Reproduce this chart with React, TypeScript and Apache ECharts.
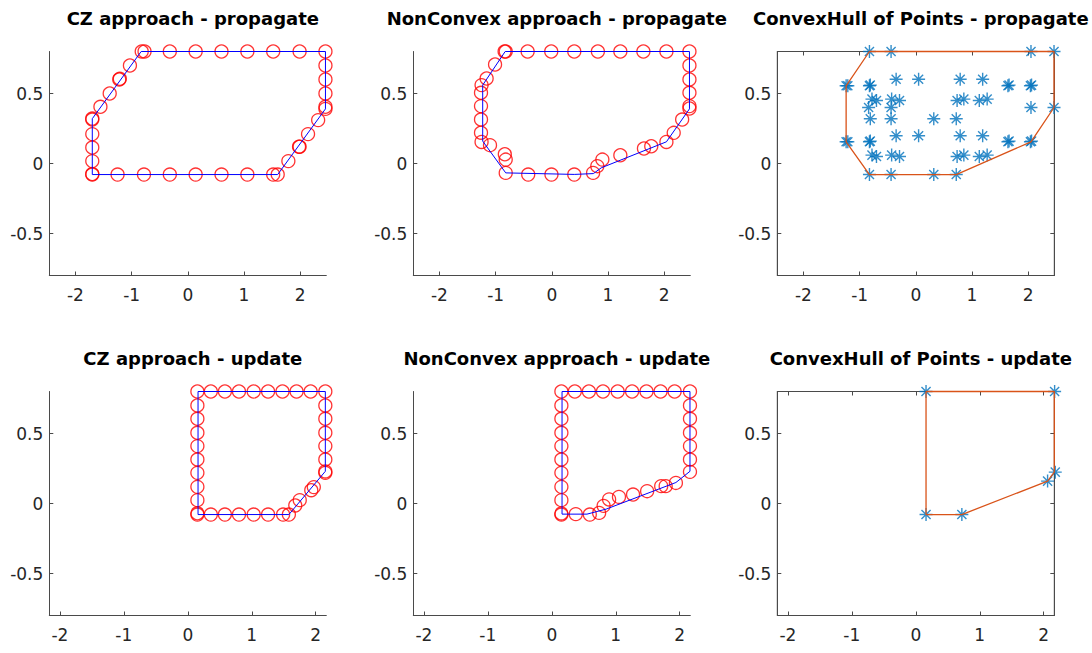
import React, { useEffect, useRef } from "react";
import * as echarts from "echarts";

// ---------- data ----------
const titles = [
  "CZ approach - propagate",
  "NonConvex approach - propagate",
  "ConvexHull of Points - propagate",
  "CZ approach - update",
  "NonConvex approach - update",
  "ConvexHull of Points - update",
];
const xTicks = [-2, -1, 0, 1, 2];
const yTicks = [-0.5, 0, 0.5];
const xLimTop = 2.465;
const xLimBottom = 2.165;
const yLim = 0.8;

// CZ approach - propagate
const czPropCircles = [
  [-0.82, 0.8], [-0.77, 0.8], [-0.32, 0.8], [0.14, 0.8], [0.6, 0.8], [1.06, 0.8], [1.52, 0.8], [1.99, 0.8], [2.45, 0.8],
  [2.45, 0.7], [2.45, 0.6], [2.45, 0.5], [2.45, 0.405], [2.45, 0.39],
  [2.32, 0.31], [2.14, 0.21], [1.98, 0.12], [1.99, 0.12], [1.79, 0.017], [1.6, -0.079],
  [1.52, -0.079], [1.06, -0.079], [0.6, -0.079], [0.14, -0.079], [-0.32, -0.079], [-0.78, -0.079], [-1.25, -0.079], [-1.7, -0.079],
  [-1.7, -0.075], [-1.7, 0.017], [-1.7, 0.114], [-1.7, 0.21], [-1.7, 0.314], [-1.7, 0.321],
  [-1.555, 0.405], [-1.39, 0.5], [-1.22, 0.6], [-1.21, 0.605], [-1.03, 0.7],
];
const czPropPoly = [
  [-1.7, -0.079], [-1.7, 0.32], [-0.83, 0.8], [2.45, 0.8], [2.45, 0.39], [1.6, -0.079], [-1.7, -0.079],
];

// NonConvex approach - propagate
const ncPropCircles = [
  [-0.84, 0.8], [-0.82, 0.8], [-0.43, 0.8], [-0.01, 0.8], [0.4, 0.8], [0.82, 0.8], [1.22, 0.8], [1.63, 0.8], [2.04, 0.8], [2.45, 0.8],
  [2.45, 0.7], [2.45, 0.6], [2.45, 0.505], [2.45, 0.41], [2.45, 0.393],
  [2.32, 0.314], [2.17, 0.219], [2.04, 0.154], [1.77, 0.123], [1.64, 0.107], [1.22, 0.059], [0.9, 0.028], [0.81, -0.019], [0.735, -0.067],
  [0.4, -0.079], [-0.006, -0.079], [-0.42, -0.079], [-0.82, -0.067],
  [-0.82, 0.028], [-0.836, 0.066], [-1.1, 0.131], [-1.25, 0.154],
  [-1.26, 0.22], [-1.26, 0.314], [-1.26, 0.41], [-1.26, 0.505], [-1.25, 0.56], [-1.16, 0.607], [-1.01, 0.707],
];
const ncPropPoly = [
  [-0.83, 0.8], [-1.23, 0.56], [-1.23, 0.16], [-0.82, -0.067], [0.4, -0.078], [0.74, -0.072], [0.88, -0.031],
  [2.04, 0.155], [2.45, 0.39], [2.45, 0.8], [-0.83, 0.8],
];

// ConvexHull of Points - propagate
const hullPropStars = [
  [-0.825, 0.8], [-0.44, 0.8], [2.05, 0.8], [2.46, 0.8],
  [-0.35, 0.602], [0.05, 0.602], [0.79, 0.602], [1.19, 0.602],
  [-1.24, 0.555], [-1.21, 0.555], [-0.825, 0.555], [-0.81, 0.56], [1.64, 0.555], [1.66, 0.56], [2.04, 0.555], [2.06, 0.56],
  [-0.78, 0.46], [-0.7, 0.45], [-0.43, 0.46], [-0.29, 0.45], [0.735, 0.45], [0.855, 0.46], [1.13, 0.45], [1.27, 0.46],
  [-0.84, 0.4], [-0.44, 0.4], [2.05, 0.4], [2.46, 0.4],
  [-0.81, 0.32], [-0.44, 0.32], [0.32, 0.32], [0.72, 0.32],
  [-0.35, 0.198], [0.05, 0.198], [0.79, 0.198], [1.19, 0.198],
  [-1.24, 0.155], [-1.21, 0.155], [-0.825, 0.155], [-0.81, 0.16], [1.64, 0.155], [1.66, 0.16], [2.04, 0.155], [2.06, 0.16],
  [-0.78, 0.06], [-0.7, 0.05], [-0.43, 0.06], [-0.29, 0.05], [0.735, 0.05], [0.855, 0.06], [1.13, 0.05], [1.27, 0.06],
  [-0.825, -0.079], [-0.44, -0.079], [0.32, -0.079], [0.72, -0.079],
];
const hullPropPoly = [
  [-0.825, 0.8], [2.46, 0.8], [2.46, 0.4], [2.05, 0.155], [0.72, -0.079], [-0.825, -0.079],
  [-1.24, 0.155], [-1.24, 0.555], [-0.825, 0.8],
];

// CZ approach - update
const czUpdCircles = [
  [0.15, 0.8], [0.36, 0.8], [0.58, 0.8], [0.8, 0.8], [1.03, 0.8], [1.255, 0.8], [1.48, 0.8], [1.7, 0.8], [1.92, 0.8], [2.15, 0.8],
  [0.15, 0.7], [0.15, 0.605], [0.15, 0.505], [0.15, 0.41], [0.15, 0.314], [0.15, 0.219], [0.15, 0.119], [0.15, 0.024], [0.15, -0.07], [0.15, -0.079],
  [2.15, 0.7], [2.15, 0.605], [2.15, 0.505], [2.15, 0.41], [2.15, 0.314], [2.15, 0.229], [2.15, 0.219],
  [1.97, 0.117], [1.93, 0.095], [1.75, 0.024], [1.68, -0.014], [1.58, -0.079],
  [1.49, -0.079], [1.255, -0.079], [1.03, -0.079], [0.8, -0.079], [0.58, -0.079], [0.36, -0.079],
];
const czUpdPoly = [
  [0.16, -0.079], [0.16, 0.8], [2.15, 0.8], [2.15, 0.23], [1.58, -0.079], [0.16, -0.079],
];

// NonConvex approach - update
const ncUpdCircles = [
  [0.15, 0.8], [0.36, 0.8], [0.58, 0.8], [0.8, 0.8], [1.03, 0.8], [1.255, 0.8], [1.48, 0.8], [1.7, 0.8], [1.92, 0.8], [2.16, 0.8],
  [0.15, 0.7], [0.15, 0.605], [0.15, 0.505], [0.15, 0.41], [0.15, 0.314], [0.15, 0.219], [0.15, 0.119], [0.15, 0.024], [0.15, -0.071], [0.15, -0.079],
  [2.16, 0.7], [2.16, 0.605], [2.16, 0.505], [2.16, 0.41], [2.16, 0.314], [2.16, 0.226],
  [0.375, -0.076], [0.594, -0.079], [0.74, -0.067], [0.81, -0.017], [0.896, 0.029], [1.05, 0.047], [1.27, 0.064],
  [1.49, 0.088], [1.71, 0.124], [1.78, 0.124], [1.94, 0.147],
];
const ncUpdPoly = [
  [0.16, -0.076], [0.16, 0.8], [2.16, 0.8], [2.16, 0.23], [1.94, 0.15], [0.85, -0.04], [0.55, -0.076], [0.16, -0.076],
];

// ConvexHull of Points - update
const hullUpdStars = [
  [0.16, 0.8], [2.17, 0.8], [2.18, 0.224], [2.06, 0.16], [0.72, -0.079], [0.16, -0.079],
];
const hullUpdPoly = [
  [0.16, 0.8], [2.165, 0.8], [2.165, 0.224], [2.06, 0.16], [0.72, -0.079], [0.16, -0.079], [0.16, 0.8],
];

// ---------- layout / style ----------
const colLeft = [49.3, 413.3, 777.3];
const rowTop = [51.5, 391.5];
const plotW = 277;
const plotH = 224;
const axisColor = "#4a4a4a";
const labelColor = "#262626";
const fontFamily = "'DejaVu Sans', sans-serif";
const STAR = "path://M5,0L5,10M0,5L10,5M1.5,1.5L8.5,8.5M1.5,8.5L8.5,1.5";

type Panel = {
  kind: "cz" | "hull";
  pts: number[][];
  poly: number[][];
  xLim: number;
};

const panels: Panel[] = [
  { kind: "cz", pts: czPropCircles, poly: czPropPoly, xLim: xLimTop },
  { kind: "cz", pts: ncPropCircles, poly: ncPropPoly, xLim: xLimTop },
  { kind: "hull", pts: hullPropStars, poly: hullPropPoly, xLim: xLimTop },
  { kind: "cz", pts: czUpdCircles, poly: czUpdPoly, xLim: xLimBottom },
  { kind: "cz", pts: ncUpdCircles, poly: ncUpdPoly, xLim: xLimBottom },
  { kind: "hull", pts: hullUpdStars, poly: hullUpdPoly, xLim: xLimBottom },
];

function buildOption() {
  const grid: any[] = [];
  const xAxis: any[] = [];
  const yAxis: any[] = [];
  const series: any[] = [];
  const title: any[] = [];

  panels.forEach((p, i) => {
    const r = Math.floor(i / 3);
    const c = i % 3;
    const isHull = p.kind === "hull";
    grid.push({
      left: colLeft[c],
      top: rowTop[r],
      width: plotW,
      height: plotH,
      containLabel: false,
      show: isHull,
      borderColor: axisColor,
      borderWidth: 1,
      backgroundColor: "rgba(0,0,0,0)",
    });
    title.push({
      text: titles[i],
      left: colLeft[c] + plotW / 2,
      top: r === 0 ? 4 : 344,
      textAlign: "center",
      textStyle: { fontFamily, fontWeight: "bold", fontSize: 18, color: "#000" },
    });

    const mainX = xAxis.length;
    xAxis.push({
      gridIndex: i,
      type: "value",
      min: -p.xLim,
      max: p.xLim,
      position: "bottom",
      axisLine: { show: true, onZero: false, lineStyle: { color: axisColor, width: 1 } },
      axisTick: { show: true, inside: true, length: 4, customValues: xTicks, lineStyle: { color: axisColor } },
      axisLabel: { customValues: xTicks, margin: 11, color: labelColor, fontSize: 17, fontFamily },
      splitLine: { show: false },
    });
    const mainY = yAxis.length;
    yAxis.push({
      gridIndex: i,
      type: "value",
      min: -yLim,
      max: yLim,
      position: "left",
      axisLine: { show: true, onZero: false, lineStyle: { color: axisColor, width: 1 } },
      axisTick: { show: true, inside: true, length: 4, customValues: yTicks, lineStyle: { color: axisColor } },
      axisLabel: { customValues: yTicks, margin: 6, color: labelColor, fontSize: 17, fontFamily },
      splitLine: { show: false },
    });

    if (isHull) {
      const topX = xAxis.length;
      xAxis.push({
        gridIndex: i,
        type: "value",
        min: -p.xLim,
        max: p.xLim,
        position: "top",
        axisLine: { show: true, onZero: false, lineStyle: { color: axisColor, width: 1 } },
        axisTick: { show: true, inside: true, length: 4, customValues: xTicks, lineStyle: { color: axisColor } },
        axisLabel: { show: false, customValues: xTicks },
        splitLine: { show: false },
      });
      const rightY = yAxis.length;
      yAxis.push({
        gridIndex: i,
        type: "value",
        min: -yLim,
        max: yLim,
        position: "right",
        axisLine: { show: true, onZero: false, lineStyle: { color: axisColor, width: 1 } },
        axisTick: { show: true, inside: true, length: 4, customValues: yTicks, lineStyle: { color: axisColor } },
        axisLabel: { show: false, customValues: yTicks },
        splitLine: { show: false },
      });
      // invisible series binding the mirror axes so they are laid out
      series.push({
        type: "scatter",
        xAxisIndex: topX,
        yAxisIndex: rightY,
        data: [],
        silent: true,
      });
      series.push({
        type: "scatter",
        xAxisIndex: mainX,
        yAxisIndex: mainY,
        data: p.pts,
        symbol: STAR,
        symbolSize: 13,
        clip: false,
        itemStyle: { color: "rgba(0,0,0,0)", borderColor: "#0072BD", borderWidth: 1.4 },
        z: 3,
      });
      series.push({
        type: "line",
        xAxisIndex: mainX,
        yAxisIndex: mainY,
        data: p.poly,
        showSymbol: false,
        clip: false,
        lineStyle: { color: "#D95319", width: 1.3 },
        z: 4,
      });
    } else {
      series.push({
        type: "scatter",
        xAxisIndex: mainX,
        yAxisIndex: mainY,
        data: p.pts,
        symbol: "circle",
        symbolSize: 13,
        clip: false,
        itemStyle: { color: "rgba(0,0,0,0)", borderColor: "#FF0000", borderWidth: 1.3 },
        z: 3,
      });
      series.push({
        type: "line",
        xAxisIndex: mainX,
        yAxisIndex: mainY,
        data: p.poly,
        showSymbol: false,
        clip: false,
        lineStyle: { color: "#0000FF", width: 1 },
        z: 4,
      });
    }
  });

  return {
    animation: false,
    backgroundColor: "#ffffff",
    title,
    grid,
    xAxis,
    yAxis,
    series,
  };
}

export default function App() {
  const ref = useRef<HTMLDivElement>(null);
  useEffect(() => {
    document.body.style.margin = "0";
    if (!ref.current) return;
    const chart = echarts.init(ref.current, undefined, { renderer: "svg" });
    chart.setOption(buildOption() as any);
    return () => chart.dispose();
  }, []);
  return <div ref={ref} style={{ position: "fixed", left: 0, top: 0, width: 1092, height: 653 }} />;
}
